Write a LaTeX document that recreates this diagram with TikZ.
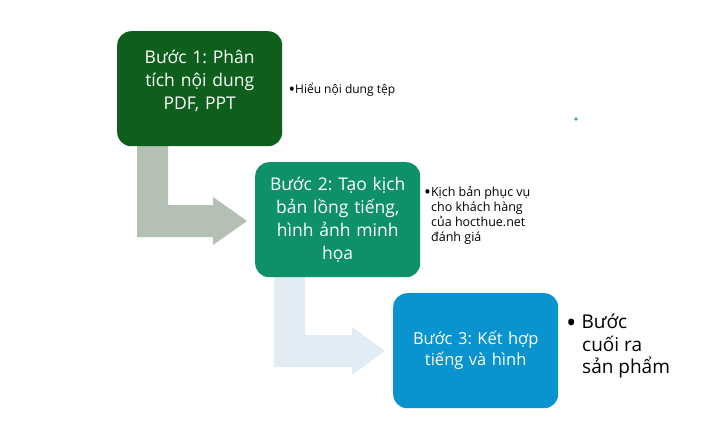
\documentclass[tikz,border=0pt]{standalone}
\usepackage{fontspec}
\setmainfont{Open Sans}
\frenchspacing
\definecolor{boxA}{RGB}{14,94,28}
\definecolor{boxB}{RGB}{14,145,104}
\definecolor{boxC}{RGB}{9,148,208}
\definecolor{arrA}{RGB}{181,192,180}
\definecolor{arrB}{RGB}{226,236,245}
\definecolor{dotc}{RGB}{70,170,160}
\newcommand{\bigbul}{\raisebox{-0.2em}{\scalebox{1.45}{•}}}
\tikzset{
  stepbox/.style={rounded corners=14pt, minimum width=165pt, minimum height=115pt, inner sep=0pt, text=white, align=center, anchor=north west},
  bigtxt/.style={font=\fontsize{17.5}{23}\selectfont},
  side/.style={anchor=north west, align=left, inner sep=0pt, text=black}
}
\begin{document}
\begin{tikzpicture}[x=1pt,y=-1pt]
\useasboundingbox[fill=white] (0,0) rectangle (720,432);
% bent arrows
\fill[arrA] (137,144) -- (168,144) -- (168,205) -- (213,205) -- (213,197) -- (247,221) -- (213,245) -- (213,237) -- (137,237) -- cycle;
\fill[arrB] (274,275) -- (305,275) -- (305,335) -- (352,335) -- (352,327) -- (385,351) -- (352,375) -- (352,367) -- (274,367) -- cycle;
% boxes
\node[stepbox, fill=boxA, bigtxt, text width=155pt] (s1) at (117,31) {Bước 1: Phân\\tích nội dung\\PDF, PPT\\[-6pt]\mbox{}};
\node[stepbox, fill=boxB, bigtxt, text width=155pt] (s2) at (255,162) {Bước 2: Tạo kịch\\bản lồng tiếng,\\hình ảnh minh\\họa};
\node[stepbox, fill=boxC, font=\fontsize{16.5}{21}\selectfont, text width=155pt] (s3) at (393,293) {Bước 3: Kết hợp\\tiếng và hình};
% side notes
\node[side, font=\fontsize{12}{15}\selectfont, anchor=west] (n1) at ([xshift=6pt,yshift=-1pt]s1.east) {\bigbul Hiểu nội dung tệp};
\node[side, font=\fontsize{12.5}{15}\selectfont, anchor=north west] (n2) at (424,186) {\bigbul Kịch bản phục vụ\\\hspace*{7pt}cho khách hàng\\\hspace*{7pt}của hocthue.net\\\hspace*{7pt}đánh giá};
\node[side, font=\fontsize{19}{22.5}\selectfont, anchor=north west] (n3) at (566,314) {\bigbul\hspace{5pt}Bước\\\hspace*{16pt}cuối ra\\\hspace*{16pt}sản phẩm};
% small dot
\fill[dotc] (576,119) circle (1.8pt);
\end{tikzpicture}
\end{document}
